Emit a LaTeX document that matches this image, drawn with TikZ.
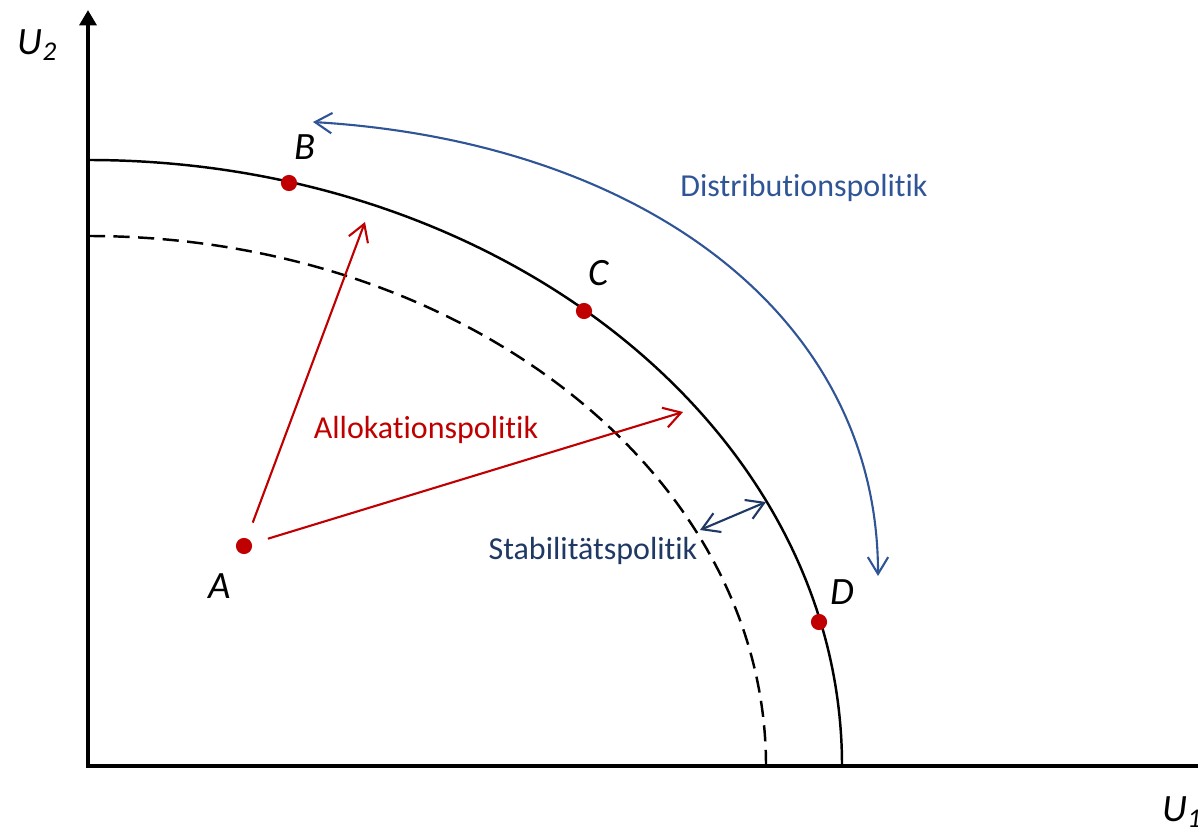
\documentclass[tikz,border=0pt]{standalone}
\usepackage{fontspec}
\setmainfont{Carlito}[Ligatures=NoCommon]
\usepackage{tikz}
\usetikzlibrary{arrows.meta, positioning}
\definecolor{allored}{HTML}{C00000}
\definecolor{distblue}{HTML}{2F5597}
\definecolor{stabblue}{HTML}{1F3864}

\begin{document}
\begin{tikzpicture}[
    x=0.01cm, y=0.01cm,
    axis/.style={line width=1.15pt, line join=miter, {Triangle[length=4.4pt,width=4.8pt]}-},
    frontier/.style={line width=0.7pt},
    dot/.style={circle, fill=allored, inner sep=0pt, minimum size=4.6pt},
    letter/.style={font=\fontsize{11}{13}\selectfont\itshape},
    policy/.style={font=\fontsize{9.1}{11}\selectfont},
    arrow/.style={line width=0.6pt, -{Straight Barb[length=4.8pt,width=5.8pt]}}
]
    \useasboundingbox (0,0) rectangle (1198,833);

    % axes
    \coordinate (origin) at (88,67);
    \coordinate (ytip) at (88,823);
    \coordinate (xend) at (1198,67);
    \draw[axis] (ytip) -- (origin) -- (xend);
    \node[letter] (u2) at (38,788) {U\textsubscript{2}};
    \node[letter, anchor=west] (u1) at (1150,21) {U\textsubscript{1}};

    % frontiers
    \draw[frontier] (842,67) arc[start angle=0, end angle=90, x radius=754, y radius=606];
    \draw[frontier, dash pattern=on 4.6pt off 2.4pt] (766,67) arc[start angle=0, end angle=90, x radius=678, y radius=530];

    % points
    \node[dot] (A) at (244,287) {};
    \node[dot] (B) at (289,650) {};
    \node[dot] (C) at (584,522) {};
    \node[dot] (D) at (819,211) {};
    \node[letter] at (220,247) {A};
    \node[letter] at (305,686) {B};
    \node[letter] at (599,560) {C};
    \node[letter] at (842,241) {D};

    % allocation
    \coordinate (alloB) at (365,611);
    \coordinate (alloC) at (683,421);
    \draw[arrow, allored, shorten <=4.6pt] (A) -- (alloB);
    \draw[arrow, allored, shorten <=4.6pt] (A) -- (alloC);
    \node[policy, text=allored] (allo) at (426,403) {Allokationspolitik};

    % distribution
    \coordinate (distB) at (313,711);
    \coordinate (distD) at (878,257);
    \draw[arrow, distblue, {Straight Barb[length=4.8pt,width=5.8pt]}-{Straight Barb[length=4.8pt,width=5.8pt]}]
        (distB) .. controls (643,691) and (878,517) .. (distD);
    \node[policy, text=distblue] (dist) at (804,645) {Distributionspolitik};

    % stability
    \coordinate (stabIn) at (700,303);
    \coordinate (stabOut) at (766,331);
    \draw[arrow, stabblue, {Straight Barb[length=4.8pt,width=5.8pt]}-{Straight Barb[length=4.8pt,width=5.8pt]}] (stabIn) -- (stabOut);
    \node[policy, text=stabblue] (stab) at (593,282) {Stabilitätspolitik};

\end{tikzpicture}
\end{document}
